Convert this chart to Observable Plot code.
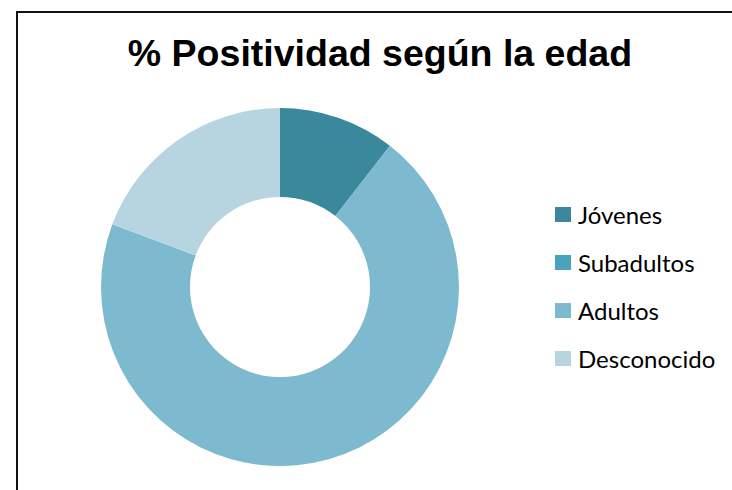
<!DOCTYPE html>
<html>
<head>
<meta charset="utf-8">
<script src="https://cdn.jsdelivr.net/npm/d3@7"></script>
<script src="https://cdn.jsdelivr.net/npm/@observablehq/plot@0.6"></script>
<style>
  html, body { margin: 0; padding: 0; background: #fff; overflow: hidden; }
  #page { position: relative; width: 732px; height: 490px; overflow: hidden; background: #fff; }
  #frame { position: absolute; left: 16px; top: 11px; width: 800px; height: 600px;
           border-left: 2px solid #111; border-top: 2px solid #111; box-sizing: border-box; }
  #title { position: absolute; left: 0; width: 760px; top: 30px; text-align: center;
           font-family: "Liberation Sans", Arial, sans-serif; font-weight: bold; font-size: 37.5px;
           line-height: 46px; color: #000; white-space: nowrap; }
  #chart { position: absolute; left: 100px; top: 107px; }
  #legend { position: absolute; left: 555px; top: 190px; font-family: Lato, "Open Sans", sans-serif;
            font-size: 24px; color: #000; }
  .row { height: 48px; display: flex; align-items: center; }
  .sw { width: 16px; height: 15px; margin-right: 7px; flex: none; }
</style>
</head>
<body>
<div id="page">
  <div id="frame"></div>
  <div id="title"></div>
  <div id="chart"></div>
  <div id="legend"></div>
</div>
<script>
const titleText = "% Positividad según la edad";
const categories = ["Jóvenes", "Subadultos", "Adultos", "Desconocido"];
const counts = [6, 0, 40, 11];
const colors = ["#3a889b", "#4aa3bc", "#7db9cf", "#b7d5e0"];

const data = categories.map((c, i) => ({category: c, value: counts[i]}));

document.getElementById("title").textContent = titleText;

const color = Plot.scale({color: {type: "ordinal", domain: categories, range: colors}});

const W = 360, H = 360, M = 1;
const xs = Plot.scale({x: {domain: [-1, 1], range: [M, W - M]}});
const ys = Plot.scale({y: {domain: [1, -1], range: [M, H - M]}});

const donut = (index, scales, values, dimensions) => {
  const cx = xs.apply(0), cy = ys.apply(0);
  const r = xs.apply(1) - cx;
  const arcs = d3.pie().sort(null).value(d => d.value)(data).filter(d => d.value > 0);
  const arc = d3.arc().innerRadius(r * 0.503).outerRadius(r);
  const g = d3.create("svg:g").attr("transform", `translate(${cx},${cy})`);
  g.selectAll("path").data(arcs).join("path")
    .attr("d", arc)
    .attr("fill", d => color.apply(d.data.category));
  return g.node();
};

const plot = Plot.plot({
  width: W,
  height: H,
  margin: M,
  style: {background: "transparent", overflow: "visible"},
  marks: [donut]
});
document.getElementById("chart").appendChild(plot);

const legend = d3.select("#legend");
const rows = legend.selectAll("div.row").data(categories).join("div").attr("class", "row");
rows.append("div").attr("class", "sw").style("background", d => color.apply(d));
rows.append("span").text(d => d);
</script>
</body>
</html>
